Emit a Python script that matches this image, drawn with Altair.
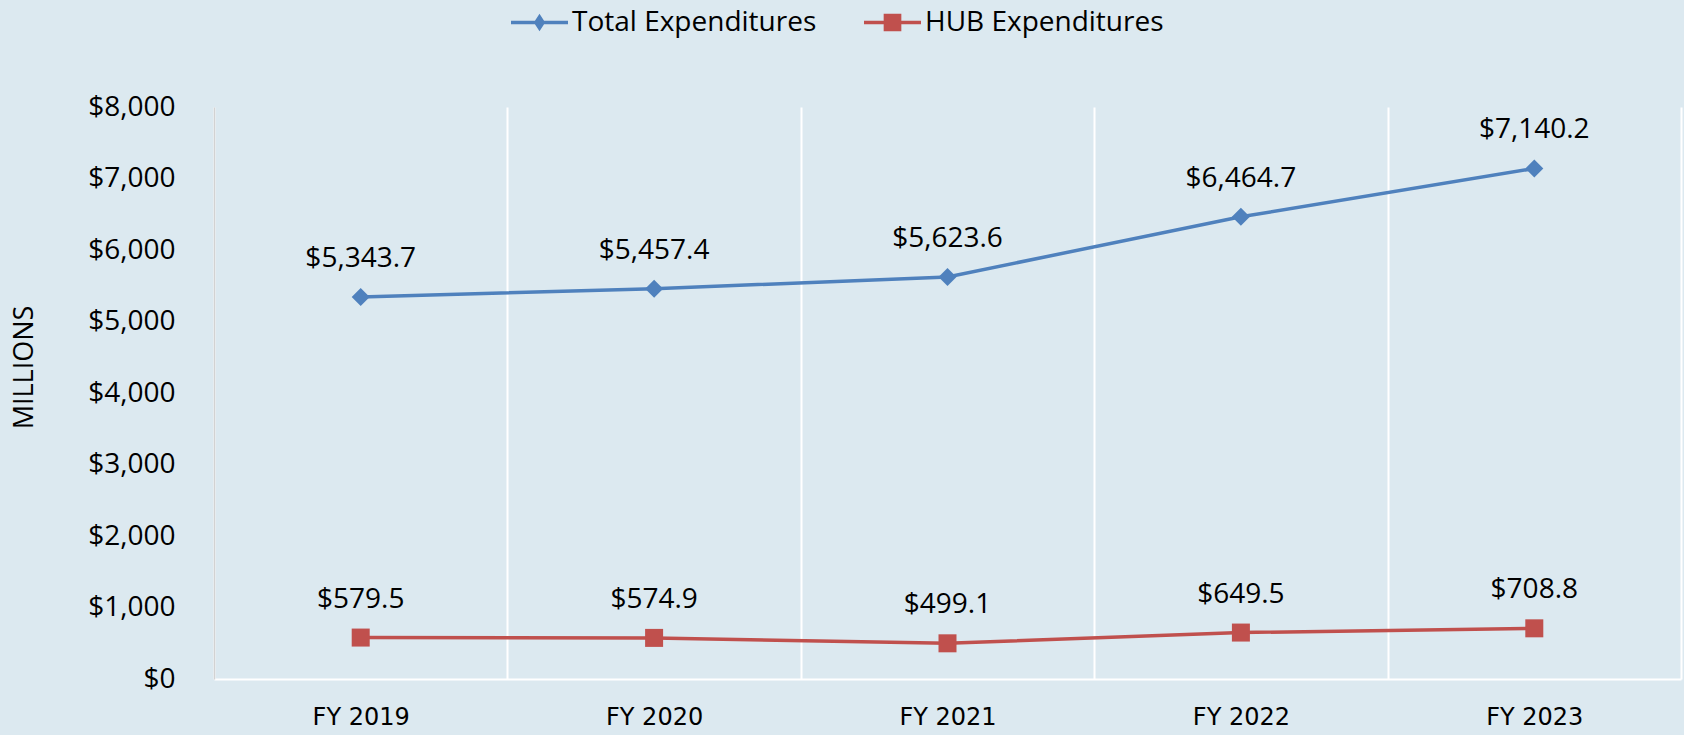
import altair as alt
import pandas as pd

years = ["FY 2019", "FY 2020", "FY 2021", "FY 2022", "FY 2023"]
total = [5343.7, 5457.4, 5623.6, 6464.7, 7140.2]
hub = [579.5, 574.9, 499.1, 649.5, 708.8]
series_names = ["Total Expenditures", "HUB Expenditures"]
series_values = [total, hub]
colors = ["#4f81bd", "#c0504d"]
shapes = ["diamond", "square"]
y_ticks = [0, 1000, 2000, 3000, 4000, 5000, 6000, 7000, 8000]

rows = []
for name, vals in zip(series_names, series_values):
    for yr, v in zip(years, vals):
        rows.append({"year": yr, "value": v, "series": name})
df = pd.DataFrame(rows)

legend_paths = [
    "M-1,-0.065 H1 V0.065 H-1 Z M0,-0.31 L0.2,0 L0,0.31 L-0.2,0 Z",
    "M-1,-0.065 H1 V0.065 H-1 Z M-0.31,-0.31 H0.31 V0.31 H-0.31 Z",
]
legend_x = [297, 650]

x_enc = alt.X(
    "year:N",
    sort=years,
    bandPosition=0.5,
    scale=alt.Scale(type="band", paddingInner=0, paddingOuter=0),
    axis=alt.Axis(
        title=None,
        labelAngle=0,
        tickBand="extent",
        grid=True,
        gridColor="white",
        gridWidth=2,
        ticks=False,
        domainColor="white",
        domainWidth=2,
        labelFont="DejaVu Sans",
        labelFontSize=24,
        labelColor="black",
        labelPadding=26,
    ),
)
y_enc = alt.Y(
    "value:Q",
    scale=alt.Scale(domain=[0, 8000], nice=False),
    axis=alt.Axis(
        values=y_ticks,
        format="$,.0f",
        grid=False,
        ticks=False,
        domainColor="#d2d2d2",
        domainWidth=1.5,
        labelFont="Open Sans",
        labelFontSize=28,
        labelColor="black",
        labelPadding=39,
        title="MILLIONS",
        titleFont="Open Sans",
        titleFontSize=27,
        titleFontWeight="normal",
        titleColor="black",
        titleX=-190,
        titleY=260,
        titleBaseline="middle",
        titleAngle=270,
    ),
)

layers = []
for i, name in enumerate(series_names):
    base = alt.Chart(df).transform_filter(alt.datum.series == name)
    line = base.mark_line(color=colors[i], strokeWidth=3.5).encode(x=x_enc, y=y_enc)
    pts = base.mark_point(filled=True, size=324, shape=shapes[i], opacity=1).encode(
        x=x_enc,
        y=y_enc,
        color=alt.Color(
            "series:N",
            scale=alt.Scale(domain=[name], range=[colors[i]]),
            legend=alt.Legend(
                title=None,
                orient="none",
                legendX=legend_x[i],
                legendY=-113,
                padding=0,
                symbolType=legend_paths[i],
                symbolSize=3249,
                symbolStrokeWidth=0,
                symbolOpacity=1,
                labelFont="Open Sans",
                labelFontSize=28,
                labelColor="black",
                labelOffset=4,
                labelLimit=400,
            ),
        ),
    )
    txt = base.mark_text(
        font="Open Sans", fontSize=28, color="black", dy=-30,
        baseline="alphabetic", align="center"
    ).encode(x=x_enc, y=y_enc, text=alt.Text("value:Q", format="$,.1f"))
    layers += [line, pts, txt]

chart = (
    alt.layer(*layers)
    .resolve_scale(color="independent")
    .properties(
        width=1467,
        height=572,
        padding={"left": 214, "top": 107, "right": 3, "bottom": 56},
        autosize=alt.AutoSizeParams(type="none"),
        background="#dce9f0",
    )
    .configure_view(stroke=None)
)

chart.save("out.html", embed_options={"renderer": "svg", "actions": False})
